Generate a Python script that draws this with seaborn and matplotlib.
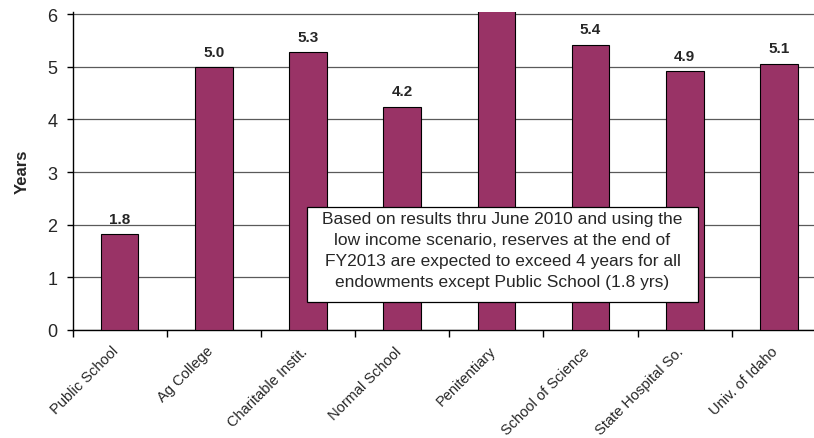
import matplotlib
matplotlib.use("Agg")
import matplotlib.pyplot as plt
import matplotlib.transforms as mtransforms
import matplotlib.patches as mpatches
import seaborn as sns
import pandas as pd
import numpy as np

categories = ["Public School", "Ag College", "Charitable Instit.", "Normal School",
              "Penitentiary", "School of Science", "State Hospital So.", "Univ. of Idaho"]
values = [1.82, 4.99, 5.28, 4.24, 6.3, 5.42, 4.91, 5.06]
y_ticks = [0, 1, 2, 3, 4, 5, 6]
note = ("Based on results thru June 2010 and using the\n"
        "low income scenario, reserves at the end of\n"
        "FY2013 are expected to exceed 4 years for all\n"
        "endowments except Public School (1.8 yrs)")

sns.set_style("white")
plt.rcParams['font.family'] = ['Liberation Sans', 'DejaVu Sans']

W, H = 814, 439
fig = plt.figure(figsize=(W / 100, H / 100), dpi=100)
ymax = 6.04
left_px, right_px, bottom_px = 72.5, 826, 331
per_unit = (331 - 15) / 6.0
top_px = bottom_px - ymax * per_unit
ax = fig.add_axes([left_px / W, (H - bottom_px) / H,
                   (right_px - left_px) / W, (bottom_px - top_px) / H])

df = pd.DataFrame({"cat": categories, "val": values})
sns.barplot(data=df, x="cat", y="val", color="#993366", saturation=1,
            edgecolor="black", linewidth=0.8, width=0.4, ax=ax, zorder=3)

ax.set_ylim(0, ymax)
ax.set_xlim(-0.5, len(categories) - 0.5)
ax.set_yticks(y_ticks)
ax.set_yticklabels([str(t) for t in y_ticks], fontsize=13)
ax.yaxis.grid(True, color="#5a5a5a", linewidth=0.9, zorder=0)
ax.set_axisbelow(True)
for s in ["top", "right"]:
    ax.spines[s].set_visible(False)
for s in ["left", "bottom"]:
    ax.spines[s].set_color("black")
    ax.spines[s].set_linewidth(1.0)
ax.tick_params(axis="y", which="major", length=4.3, width=1, color="black",
               direction="out", left=True, pad=6.5)

ax.set_xticks(np.arange(len(categories)))
ax.set_xticklabels(categories, rotation=45, ha="right", rotation_mode="anchor",
                   fontsize=10.5)
ax.tick_params(axis="x", which="major", length=0, pad=8)
offset = mtransforms.ScaledTranslation(-0.08, -0.025, fig.dpi_scale_trans)
for lbl in ax.get_xticklabels():
    lbl.set_transform(lbl.get_transform() + offset)
ax.set_xticks(np.arange(len(categories)) - 0.5, minor=True)
ax.tick_params(axis="x", which="minor", length=5, width=1, color="black",
               direction="out", bottom=True)

ax.set_xlabel("")
ax.set_ylabel("Years", fontsize=12, fontweight="bold", labelpad=13)

labels = [f"{v:.1f}" if v <= 6 else "" for v in values]
ax.bar_label(ax.containers[0], labels=labels, padding=6, fontsize=11,
             fontweight="bold")

# annotation box (pixel geometry of the reference)
bx0, by0, bx1, by1 = 307, 208, 698, 303
rect = mpatches.Rectangle((bx0 / W, 1 - by1 / H), (bx1 - bx0) / W, (by1 - by0) / H,
                          transform=fig.transFigure, facecolor="white",
                          edgecolor="black", linewidth=0.9, zorder=9)
fig.patches.append(rect)
fig.text((bx0 + bx1) / 2 / W, 1 - 251 / H, note, ha="center", va="center",
         fontsize=12.5, linespacing=1.5, zorder=10)

fig.savefig("out.png", dpi=100)
